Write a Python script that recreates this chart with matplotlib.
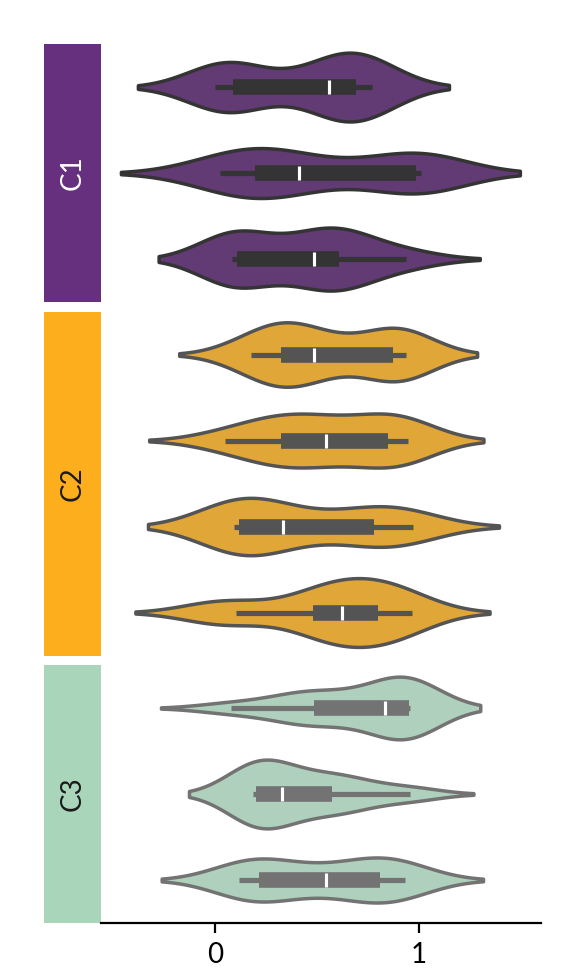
import matplotlib.pyplot as plt
import matplotlib.patches as mpatches
import pandas as pd
import seaborn as sns

plt.rcParams["font.family"] = ["Lato", "DejaVu Sans"]

# group names, colours and label colours
groups = ["C1", "C2", "C3"]
group_colors = ["#66307E", "#FDAE1C", "#A9D6BB"]
label_colors = ["white", "#1a1a1a", "#1a1a1a"]

# values, one list per violin (top to bottom)
c1_values = [
    [0.00, 0.05, 0.08, 0.12, 0.52, 0.60, 0.64, 0.71, 0.74, 0.77],
    [0.025, 0.12, 0.18, 0.245, 0.33, 0.49, 0.96, 0.993, 1.00, 1.01],
    [0.083, 0.095, 0.10, 0.132, 0.45, 0.52, 0.58, 0.62, 0.70, 0.94],
]
c2_values = [
    [0.175, 0.28, 0.31, 0.37, 0.44, 0.534, 0.86, 0.88, 0.90, 0.936],
    [0.047, 0.25, 0.30, 0.40, 0.50, 0.592, 0.78, 0.875, 0.91, 0.948],
    [0.093, 0.11, 0.115, 0.135, 0.26, 0.41, 0.70, 0.81, 0.88, 0.972],
    [-0.01, 0.101, 0.46, 0.54, 0.60, 0.648, 0.78, 0.807, 0.88, 0.967],
]
c3_values = [
    [0.077, 0.35, 0.44, 0.50, 0.60, 0.80, 0.874, 0.945, 0.95, 0.952, 0.955, 0.96],
    [0.185, 0.19, 0.195, 0.215, 0.30, 0.36, 0.55, 0.58, 0.70, 0.956],
    [0.119, 0.17, 0.20, 0.268, 0.45, 0.642, 0.78, 0.823, 0.88, 0.935],
]
all_values = [c1_values, c2_values, c3_values]

fig = plt.figure(figsize=(2.92, 4.84), dpi=200)
gs = fig.add_gridspec(3, 1, height_ratios=[len(v) for v in all_values],
                      left=0.173, right=0.926, bottom=0.0465, top=0.9545,
                      hspace=0.033)

for i, (name, color, values) in enumerate(zip(groups, group_colors, all_values)):
    ax = fig.add_subplot(gs[i])
    rows = []
    for j, vals in enumerate(values):
        for v in vals:
            rows.append({"value": v, "row": f"{name}_{j}"})
    df = pd.DataFrame(rows)
    sns.violinplot(data=df, x="value", y="row", color=color, inner="box",
                   bw_adjust=0.94, ax=ax)
    # flat ends on the box bars
    for line in ax.lines:
        line.set_solid_capstyle("butt")

    ax.set_xlim(-0.56, 1.60)
    ax.set_ylim(len(values) - 0.5, -0.5)
    ax.set_yticks([])
    ax.set_ylabel("")
    ax.set_xlabel("")
    for side in ["left", "top", "right"]:
        ax.spines[side].set_visible(False)
    if i < len(groups) - 1:
        ax.spines["bottom"].set_visible(False)
        ax.set_xticks([])
    else:
        ax.set_xticks([0, 1])

    # coloured group bar on the left
    bar = mpatches.Rectangle((-0.1295, 0), 0.1295, 1, transform=ax.transAxes,
                             facecolor=color, edgecolor="none", clip_on=False)
    ax.add_patch(bar)
    ax.text(-0.065, 0.5, name, transform=ax.transAxes, rotation=90,
            ha="center", va="center", color=label_colors[i], fontsize=10)

plt.savefig("out.png", dpi=200)
